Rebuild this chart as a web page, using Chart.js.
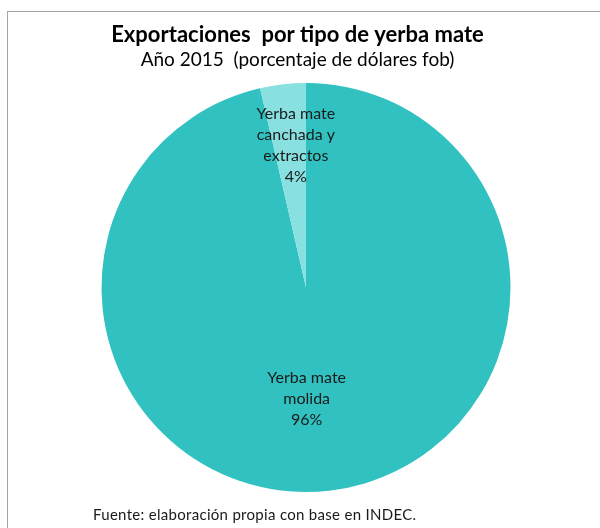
<!DOCTYPE html>
<html>
<head>
<meta charset="utf-8">
<script src="https://cdn.jsdelivr.net/npm/chart.js@4"></script>
<style>
  html, body { margin: 0; padding: 0; background: #fff; }
  body { width: 600px; height: 528px; position: relative; overflow: hidden; }
  .frame { position: absolute; left: 7px; top: 11px; width: 700px; height: 600px; border: 1px solid #a6a6a6; }
  #chartWrap { position: absolute; left: 0; top: 0; width: 600px; height: 528px; }
  .source { position: absolute; left: 93px; top: 505px; font: 15px Lato, sans-serif; color: #1a1a1a; letter-spacing: 0.3px; }
</style>
</head>
<body>
<div class="frame"></div>
<div id="chartWrap"><canvas id="pieChart"></canvas></div>
<div class="source">Fuente: elaboración propia con base en INDEC.</div>
<script>
// Data
const categories = ['Yerba mate molida', 'Yerba mate canchada y extractos'];
const labelLines = [['Yerba mate', 'molida'], ['Yerba mate', 'canchada y', 'extractos']];
const shares = [96.4, 3.6];
const colors = ['#31c1c0', '#88e0e0'];
const titleText = 'Exportaciones  por tipo de yerba mate';
const subtitleText = 'Año 2015  (porcentaje de dólares fob)';

// Title block, centred on the frame rather than the pie
const titles = {
    id: 'titles',
    afterDraw(chart) {
        const ctx = chart.ctx;
        const cx = chart.width / 2 - 2.5;
        ctx.save();
        ctx.fillStyle = '#000';
        ctx.textAlign = 'center';
        ctx.textBaseline = 'middle';
        ctx.font = 'bold 22px Lato, sans-serif';
        ctx.fillText(titleText, cx, 35);
        ctx.font = '19px Lato, sans-serif';
        ctx.fillText(subtitleText, cx, 60);
        ctx.restore();
    }
};

// Labels drawn inside each slice
const sliceLabels = {
    id: 'sliceLabels',
    afterDatasetsDraw(chart) {
        const ctx = chart.ctx;
        const meta = chart.getDatasetMeta(0);
        const fracs = [0.55, 0.70];
        const nudgeX = [-12, 6];
        ctx.save();
        ctx.font = '16px Lato, sans-serif';
        ctx.fillStyle = '#1a1a1a';
        ctx.textAlign = 'center';
        ctx.textBaseline = 'middle';
        meta.data.forEach((arc, i) => {
            const mid = (arc.startAngle + arc.endAngle) / 2;
            const r = arc.outerRadius * fracs[i];
            const x = arc.x + Math.cos(mid) * r + nudgeX[i];
            const y = arc.y + Math.sin(mid) * r;
            const lines = labelLines[i].concat([Math.round(shares[i]) + '%']);
            const lh = 21;
            const top = y - (lines.length - 1) * lh / 2;
            lines.forEach((t, k) => ctx.fillText(t, x, top + k * lh));
        });
        ctx.restore();
    }
};

new Chart(document.getElementById('pieChart'), {
    type: 'pie',
    data: {
        labels: categories,
        datasets: [{
            data: shares,
            backgroundColor: colors,
            borderWidth: 0
        }]
    },
    options: {
        responsive: true,
        maintainAspectRatio: false,
        animation: false,
        layout: { padding: { left: 12, right: 0, top: 83, bottom: 36 } },
        plugins: {
            legend: { display: false },
            tooltip: { enabled: false },
            title: { display: false }
        }
    },
    plugins: [sliceLabels, titles]
});
</script>
</body>
</html>
